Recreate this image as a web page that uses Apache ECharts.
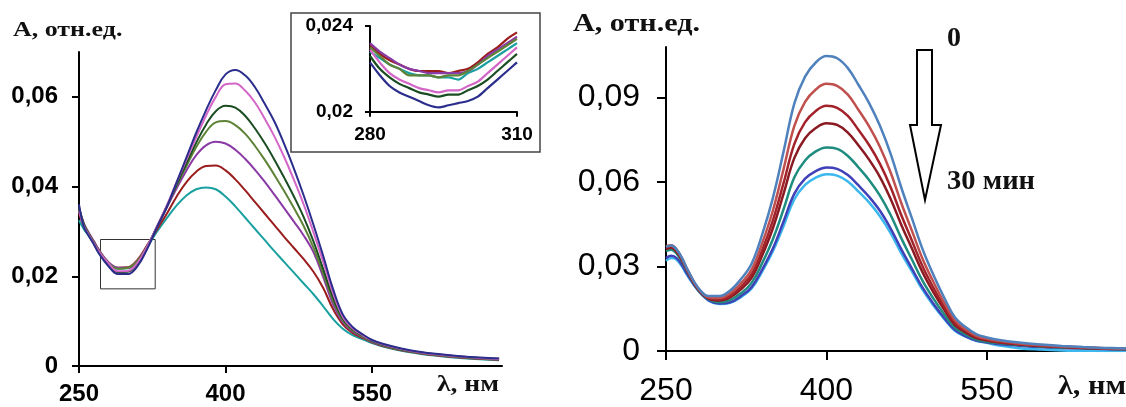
<!DOCTYPE html>
<html><head><meta charset="utf-8">
<script src="https://cdn.jsdelivr.net/npm/echarts@6/dist/echarts.min.js"></script>
<style>html,body{margin:0;padding:0;background:#fff}#c{width:1126px;height:407px}</style>
</head><body><div id="c"></div>
<script>
// wavelengths (nm)
const WL = [250,255,260,265,270,280,290,300,310,320,330,340,350,360,370,380,390,400,410,420,430,440,450,460,470,480,490,500,510,520,530,540,550,560,580,600,620,640,660,680];
const WL_INSET = [280,282,284,286,288,290,292,294,296,298,300,302,304,306,308,310];

// left panel series
const L_navy   = [.036,.031,.029,.0272,.0252,.0223,.0205,.0205,.0223,.0262,.031,.0355,.041,.0465,.052,.057,.0615,.065,.066,.0648,.0622,.0585,.0545,.0495,.0440,.0380,.0315,.0245,.0172,.0115,.0087,.0071,.0058,.0050,.0039,.0031,.0026,.0022,.0019,.0017];
const L_pink   = [.0345,.0312,.0292,.0274,.0256,.0229,.0211,.0212,.0230,.0267,.0312,.0358,.041,.046,.051,.0558,.060,.0628,.0630,.0614,.0588,.0552,.0512,.0466,.0415,.0360,.0298,.0232,.0163,.0110,.0084,.0069,.0057,.0049,.0038,.0030,.0025,.0021,.0018,.0016];
const L_dgreen = [.0355,.0315,.0293,.0275,.0255,.0226,.0209,.0210,.0227,.0265,.0311,.0357,.0405,.0452,.0498,.0538,.0568,.058,.0576,.0558,.0530,.0497,.0460,.0420,.0378,.0332,.0278,.0216,.0153,.0106,.0082,.0068,.0056,.0048,.0037,.0030,.0025,.0021,.0018,.0016];
const L_olive  = [.0348,.0316,.0295,.0277,.0258,.0230,.0217,.0219,.0234,.0268,.0311,.0356,.0402,.0446,.0488,.0522,.0543,.0546,.0537,.0518,.0491,.0460,.0426,.0390,.0352,.0312,.0264,.0206,.0146,.0102,.0079,.0066,.0055,.0047,.0036,.0029,.0024,.0020,.0017,.0015];
const L_purple = [.0352,.0318,.0297,.0279,.0260,.0232,.0219,.0219,.0235,.0268,.0310,.0354,.0396,.0436,.0470,.0492,.0500,.0496,.0482,.0462,.0438,.0411,.0382,.0352,.0322,.0291,.0254,.0198,.0138,.0098,.0077,.0065,.0054,.0046,.0036,.0029,.0024,.0020,.0017,.0015];
const L_red    = [.0340,.0312,.0294,.0278,.0260,.0231,.0219,.0220,.0237,.0270,.0305,.0340,.0378,.0410,.0433,.0446,.0447,.0436,.0416,.0392,.0366,.0340,.0314,.0288,.0263,.0238,.0210,.0174,.0127,.0093,.0074,.0063,.0053,.0045,.0035,.0028,.0023,.0019,.0016,.0014];
const L_teal   = [.0325,.0305,.0290,.0275,.0258,.0228,.0217,.0218,.0232,.0266,.0300,.0330,.0358,.0380,.0394,.0398,.0394,.0378,.0356,.0331,.0306,.0281,.0256,.0232,.0208,.0184,.0160,.0133,.0105,.0083,.0069,.0060,.0051,.0044,.0034,.0027,.0022,.0018,.0015,.0013];

// inset (280-310 nm)
const I_navy   = [.0223,.0217,.0212,.0209,.0207,.0205,.0203,.0202,.0203,.0204,.0205,.0207,.0211,.0215,.0219,.0223];
const I_dgreen = [.0226,.0220,.0216,.0213,.0211,.0209,.0208,.0207,.0208,.0208,.0210,.0212,.0215,.0219,.0223,.0227];
const I_pink   = [.0229,.0223,.0218,.0215,.0213,.0211,.0210,.0209,.0210,.0210,.0212,.0214,.0218,.0222,.0226,.0230];
const I_teal   = [.0228,.0225,.0222,.0220,.0218,.0217,.0217,.0216,.0216,.0215,.0218,.0220,.0223,.0226,.0229,.0232];
const I_olive  = [.0230,.0226,.0222,.0220,.0217,.0217,.0217,.0216,.0217,.0217,.0219,.0222,.0225,.0228,.0231,.0234];
const I_purple = [.0232,.0228,.0225,.0222,.0220,.0219,.0218,.0218,.0218,.0218,.0219,.0222,.0226,.0229,.0232,.0235];
const I_red    = [.0231,.0227,.0224,.0222,.0220,.0219,.0219,.0219,.0218,.0219,.0220,.0223,.0227,.0230,.0234,.0237];

// right panel series (0 ... 30 min)
const R_steel  = [.037,.0375,.036,.033,.029,.0225,.0195,.0195,.0215,.0255,.031,.0415,.0545,.071,.088,.0975,.1025,.1048,.104,.1005,.0945,.088,.080,.070,.058,.047,.036,.027,.019,.012,.0085,.006,.0048,.004,.003,.0023,.0018,.0014,.0011,.0009];
const R_lred   = [.0372,.0376,.0360,.0329,.0289,.0223,.0191,.0188,.0205,.0240,.0289,.0384,.0500,.0648,.0800,.0885,.0929,.0949,.0942,.0911,.0856,.0797,.0725,.0634,.0525,.0426,.0326,.0245,.0172,.0109,.0077,.0054,.0043,.0036,.0027,.0021,.0016,.0013,.0010,.0008];
const R_dred   = [.0368,.0372,.0357,.0326,.0287,.0221,.0188,.0183,.0196,.0228,.0273,.0359,.0465,.0598,.0736,.0813,.0853,.0871,.0864,.0835,.0785,.0731,.0665,.0582,.0482,.0391,.0299,.0224,.0158,.0100,.0071,.0050,.0040,.0033,.0025,.0019,.0015,.0012,.0009,.0007];
const R_maroon = [.0362,.0367,.0352,.0322,.0284,.0219,.0186,.0179,.0190,.0219,.0260,.0340,.0437,.0560,.0686,.0756,.0792,.0809,.0803,.0776,.0730,.0679,.0618,.0540,.0448,.0363,.0278,.0208,.0147,.0093,.0066,.0046,.0037,.0031,.0023,.0018,.0014,.0011,.0008,.0007];
const R_teal   = [.0355,.0360,.0346,.0318,.0281,.0217,.0183,.0173,.0181,.0205,.0242,.0313,.0398,.0505,.0617,.0677,.0709,.0723,.0718,.0693,.0652,.0607,.0552,.0483,.0400,.0324,.0248,.0186,.0131,.0083,.0059,.0041,.0033,.0028,.0021,.0016,.0012,.0010,.0008,.0006];
const R_indigo = [.0330,.0338,.0330,.0305,.0272,.0216,.0180,.0169,.0173,.0195,.0227,.0290,.0365,.0461,.0559,.0612,.0639,.0652,.0647,.0625,.0588,.0547,.0498,.0435,.0361,.0292,.0224,.0168,.0118,.0075,.0053,.0037,.0030,.0025,.0019,.0014,.0011,.0009,.0007,.0006];
const R_cyan   = [.0320,.0330,.0324,.0300,.0268,.0215,.0179,.0167,.0171,.0191,.0222,.0283,.0355,.0445,.0539,.0590,.0616,.0628,.0623,.0602,.0566,.0527,.0479,.0419,.0347,.0282,.0216,.0162,.0114,.0072,.0051,.0036,.0029,.0020,.0010,.0005,.0002,.0001,0,0];

// tick labels
const X_TICKS = [250,400,550];
const L_Y_TICKS = [0,0.02,0.04,0.06];
const R_Y_TICKS = [0,0.03,0.06,0.09];
const I_X_TICKS = [280,310];
const I_Y_TICKS = [0.02,0.024];

const leftSeries = [
  ['L_teal', L_teal, '#1aa0a0'], ['L_red', L_red, '#9a1c1c'], ['L_purple', L_purple, '#8a3aa4'],
  ['L_olive', L_olive, '#5e8236'], ['L_dgreen', L_dgreen, '#1b4d22'], ['L_pink', L_pink, '#d466c8'], ['L_navy', L_navy, '#2b2d8c']
];
const insetSeries = [
  ['I_teal', I_teal, '#1aa0a0'], ['I_red', I_red, '#9a1c1c'], ['I_purple', I_purple, '#8a3aa4'],
  ['I_olive', I_olive, '#5e8236'], ['I_dgreen', I_dgreen, '#1b4d22'], ['I_pink', I_pink, '#d466c8'], ['I_navy', I_navy, '#2b2d8c']
];
const rightSeries = [
  ['R_cyan', R_cyan, '#3cb8ee'], ['R_indigo', R_indigo, '#4040b8'], ['R_teal', R_teal, '#1e8c7e'],
  ['R_maroon', R_maroon, '#8a1a22'], ['R_dred', R_dred, '#a3222a'], ['R_lred', R_lred, '#c0504d'], ['R_steel', R_steel, '#4f81bd']
];

const fmt = v => String(v).replace('.', ',');
const axisLine = {show: true, onZero: false, lineStyle: {color: '#000', width: 2}};

function mkAxis(idx, min, max, ticks, fs, bold, margin, tickLen) {
  return {type: 'value', gridIndex: idx, min: min, max: max,
    axisLine: axisLine, splitLine: {show: false},
    axisTick: {show: true, length: tickLen, customValues: ticks, lineStyle: {color: '#000', width: 2}},
    axisLabel: {customValues: ticks, formatter: fmt, margin: margin, color: '#000',
      fontFamily: 'Liberation Sans', fontSize: fs, fontWeight: bold ? 'bold' : 'normal'}};
}

const series = [];
leftSeries.forEach(([n, d, c], i) => series.push({
  name: n, type: 'line', xAxisIndex: 0, yAxisIndex: 0, showSymbol: false, smooth: 0.4,
  lineStyle: {color: c, width: 2}, data: WL.map((w, k) => [w, d[k]]),
  markArea: i === leftSeries.length - 1 ? {silent: true,
    itemStyle: {color: 'rgba(0,0,0,0)', borderColor: '#333', borderWidth: 1},
    data: [[{coord: [272, 0.0172]}, {coord: [328, 0.0282]}]]} : undefined
}));
rightSeries.forEach(([n, d, c]) => series.push({
  name: n, type: 'line', xAxisIndex: 1, yAxisIndex: 1, showSymbol: false, smooth: 0.4,
  lineStyle: {color: c, width: 2.5}, data: WL.map((w, k) => [w, d[k]])
}));
insetSeries.forEach(([n, d, c]) => series.push({
  name: n, type: 'line', xAxisIndex: 2, yAxisIndex: 2, showSymbol: false, smooth: 0.3, z: 10,
  lineStyle: {color: c, width: 2.2}, data: WL_INSET.map((w, k) => [w, d[k]])
}));

function txt(t, x, y, size, sx) {
  return {type: 'text', z: 20, x: x, y: y, scaleX: sx,
    style: {text: t, font: 'bold ' + size + 'px "Liberation Serif"', fill: '#111', textVerticalAlign: 'top'}};
}

const option = {
  animation: false,
  backgroundColor: '#fff',
  grid: [
    {left: 79, right: 624, top: 52, bottom: 41},
    {left: 666, right: 0, top: 47, bottom: 55.5},
    {left: 370, width: 147, top: 26, height: 85.7, z: 10}
  ],
  xAxis: [
    mkAxis(0, 250, 683, X_TICKS, 24, true, 16, 7),
    mkAxis(1, 250, 680, X_TICKS, 32, false, 24, 9),
    Object.assign(mkAxis(2, 280, 310, I_X_TICKS, 19, true, 14, 5), {z: 10})
  ],
  yAxis: [
    mkAxis(0, 0, 0.07, L_Y_TICKS, 24, true, 21, 7),
    mkAxis(1, 0, 0.108, R_Y_TICKS, 32, false, 26, 9),
    Object.assign(mkAxis(2, 0.02, 0.024, I_Y_TICKS, 19, true, 17, 5), {z: 10})
  ],
  graphic: [
    {type: 'rect', z: 5, shape: {x: 291, y: 13, width: 249, height: 139},
      style: {fill: '#fff', stroke: '#444', lineWidth: 1.5}},
    txt('A, отн.ед.', 13, 19, 22, 1.18),
    txt('A, отн.ед.', 573, 11, 26, 1.16),
    txt('λ, нм', 437, 374, 23, 1.2),
    txt('λ, нм', 1058, 374, 27, 1.12),
    txt('0', 947, 25, 28, 1),
    txt('30 мин', 947, 168, 28, 1.02),
    {type: 'polygon', z: 20, shape: {points: [[917,50],[932,50],[932,125],[941,125],[925,200],[910,125],[917,125]]},
      style: {fill: '#fff', stroke: '#000', lineWidth: 2}}
  ],
  series: series
};
const chart = echarts.init(document.getElementById('c'), null, {renderer: 'canvas'});
chart.setOption(option);
</script></body></html>
